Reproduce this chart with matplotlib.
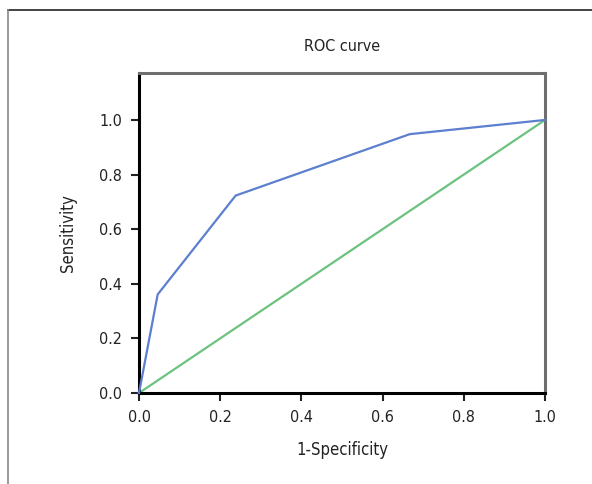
import matplotlib.pyplot as plt
from matplotlib.lines import Line2D

plt.rcParams['font.family'] = ['DejaVu Sans']
plt.rcParams['font.stretch'] = 'condensed'

# ROC data
fpr = [0.0, 0.046, 0.238, 0.667, 1.0]
tpr = [0.0, 0.361, 0.723, 0.948, 1.0]
ref = [0.0, 1.0]
ticks = [0.0, 0.2, 0.4, 0.6, 0.8, 1.0]

fig = plt.figure(figsize=(5.92, 4.84), dpi=100)
ax = fig.add_axes([0.2348, 0.188, 0.6858, 0.6612])

ax.plot(ref, ref, color='#6cc27f', lw=1.6, clip_on=False, zorder=2)
ax.plot(fpr, tpr, color='#5c7fcf', lw=1.6, clip_on=False, zorder=3)

ax.set_xlim(0, 1.0)
ax.set_ylim(0, 1.172)
ax.set_xticks(ticks)
ax.set_yticks(ticks)
ax.set_xticklabels([f"{t:.1f}" for t in ticks])
ax.set_yticklabels([f"{t:.1f}" for t in ticks])
ax.tick_params(direction='out', length=6, width=1.5, labelsize=11.5, colors='#222222', pad=6)

for s in ['left', 'bottom']:
    ax.spines[s].set_linewidth(2.2)
    ax.spines[s].set_color('black')
for s in ['top', 'right']:
    ax.spines[s].set_linewidth(2.2)
    ax.spines[s].set_color('#6e6e6e')

ax.set_title("ROC curve", fontsize=11.5, color='#222222', pad=16)
ax.set_xlabel("1-Specificity", fontsize=12, color='#222222', labelpad=12)
ax.set_ylabel("Sensitivity", fontsize=12, color='#222222', labelpad=16)

# outer frame
fig.add_artist(Line2D([8 / 592, 1.0], [1 - 10 / 484, 1 - 10 / 484], color='#222222', lw=1.2, transform=fig.transFigure))
fig.add_artist(Line2D([8 / 592, 8 / 592], [0, 1 - 10 / 484], color='#888888', lw=1.2, transform=fig.transFigure))

fig.savefig("out.png", dpi=100)
